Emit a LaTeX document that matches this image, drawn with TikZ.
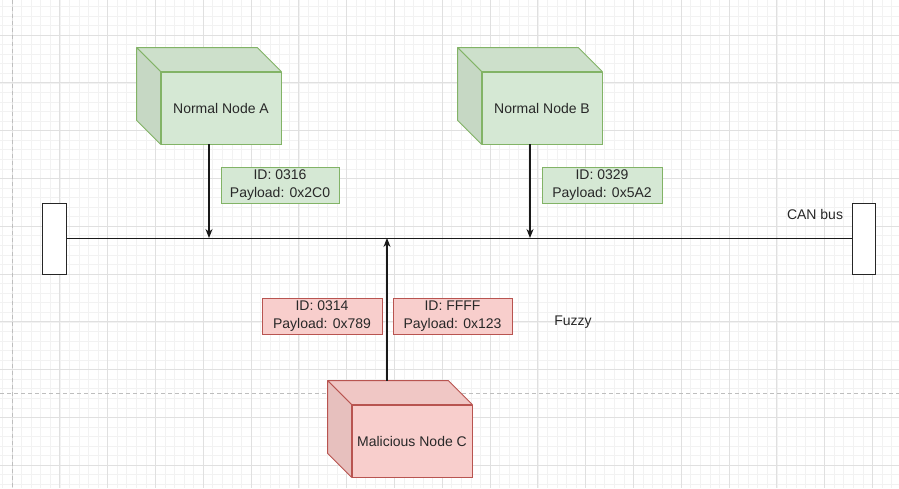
\documentclass[tikz,border=0pt]{standalone}
\usepackage{fontspec}
\setmainfont{Liberation Sans}
\usetikzlibrary{arrows.meta,calc}
\definecolor{gfill}{RGB}{213,232,212}
\definecolor{gtop}{RGB}{205,224,203}
\definecolor{gside}{RGB}{198,216,196}
\definecolor{gline}{RGB}{130,179,102}
\definecolor{rfill}{RGB}{248,206,204}
\definecolor{rtop}{RGB}{240,199,197}
\definecolor{rside}{RGB}{231,192,190}
\definecolor{rline}{RGB}{184,84,80}
\definecolor{txt}{RGB}{40,40,40}
\definecolor{gridminor}{RGB}{242,242,242}
\definecolor{gridmajor}{RGB}{224,224,224}
\definecolor{pagebreak}{RGB}{190,190,190}
\tikzset{
  every node/.style={font=\fontsize{14}{18}\selectfont, text=txt},
  cubefront/.style={draw, line width=0.8pt, minimum width=120pt, minimum height=72pt, inner sep=0pt},
  idlabel/.style={draw, line width=0.8pt, minimum height=36pt, inner sep=0pt, align=center},
  terminator/.style={draw=black!85, line width=1pt, fill=white, minimum width=24pt, minimum height=71pt, inner sep=0pt},
  busline/.style={line width=1.2pt, black!90},
  msgarrow/.style={line width=1.2pt, black!90, -{Stealth[length=9pt,width=7pt]}},
  minorgrid/.style={gridminor, line width=0.6pt},
  majorgrid/.style={gridmajor, line width=0.8pt},
}
\newcommand{\cubesides}[4]{% node, topcolor, sidecolor, linecolor
  \filldraw[fill=#2, draw=#4, line width=0.8pt, line join=round]
    ($(#1.north west)+(-24pt,24pt)$) -- ($(#1.north east)+(-24pt,24pt)$) -- (#1.north east) -- (#1.north west) -- cycle;
  \filldraw[fill=#3, draw=#4, line width=0.8pt, line join=round]
    ($(#1.north west)+(-24pt,24pt)$) -- (#1.north west) -- (#1.south west) -- ($(#1.south west)+(-24pt,24pt)$) -- cycle;
}
\begin{document}
\begin{tikzpicture}[x=1pt,y=-1pt]
\useasboundingbox (0,0) rectangle (899,488);
\fill[white] (0,0) rectangle (899,488);
% grid
\begin{scope}
\clip (0,0) rectangle (899,488);
\foreach \i in {0,...,95} { \draw[minorgrid] ({12+9.56*(\i-1)},0) -- ({12+9.56*(\i-1)},488); }
\foreach \i in {0,...,52} { \draw[minorgrid] (0,{35+9.56*(\i-4)}) -- (899,{35+9.56*(\i-4)}); }
\foreach \k in {0,...,18} { \draw[majorgrid] ({12+47.8*\k},0) -- ({12+47.8*\k},488); }
\foreach \k in {0,...,9} { \draw[majorgrid] (0,{35+47.8*\k}) -- (899,{35+47.8*\k}); }
\draw[pagebreak, line width=0.8pt, dash pattern=on 4pt off 3pt] (12,0) -- (12,488);
\draw[pagebreak, line width=0.8pt, dash pattern=on 4pt off 3pt] (0,393) -- (899,393);
\end{scope}

% bus terminators
\node[terminator] (L) at (54,238.5) {};
\node[terminator, minimum width=23pt] (R) at (863.5,238.5) {};
\draw[busline] (L.east) -- (R.west);
\node (canbus) at (815,214) {CAN bus};

% bus contact points
\coordinate (busA) at (209,238);
\coordinate (busB) at (530,238);
\coordinate (busC) at (387,238);

% nodes (cubes)
\node[cubefront, fill=gfill, draw=gline] (A) at (221,108) {Normal Node A};
\cubesides{A}{gtop}{gside}{gline}
\node[cubefront, fill=gfill, draw=gline] (B) at (542,108) {Normal Node B};
\cubesides{B}{gtop}{gside}{gline}
\node[cubefront, fill=rfill, draw=rline] (C) at (412,441) {Malicious Node C};
\cubesides{C}{rtop}{rside}{rline}
\coordinate (Cback) at ($(C.north)+(0,24pt)$);

% arrows
\draw[msgarrow] (A.south -| busA) -- (busA);
\draw[msgarrow] (B.south -| busB) -- (busB);
\draw[msgarrow] (Cback -| busC) -- (busC);

% message labels
\node[idlabel, fill=gfill, draw=gline, minimum width=118pt] (mA) at (280,185) {ID: 0316\\Payload: 0x2C0};
\node[idlabel, fill=gfill, draw=gline, minimum width=120pt] (mB) at (602,185) {ID: 0329\\Payload: 0x5A2};
\node[idlabel, fill=rfill, draw=rline, minimum width=120pt] (mC1) at (322,316) {ID: 0314\\Payload: 0x789};
\node[idlabel, fill=rfill, draw=rline, minimum width=119pt] (mC2) at (452.5,316) {ID: FFFF\\Payload: 0x123};
\node (fuzzy) at (573,322) {Fuzzy};
\end{tikzpicture}
\end{document}
